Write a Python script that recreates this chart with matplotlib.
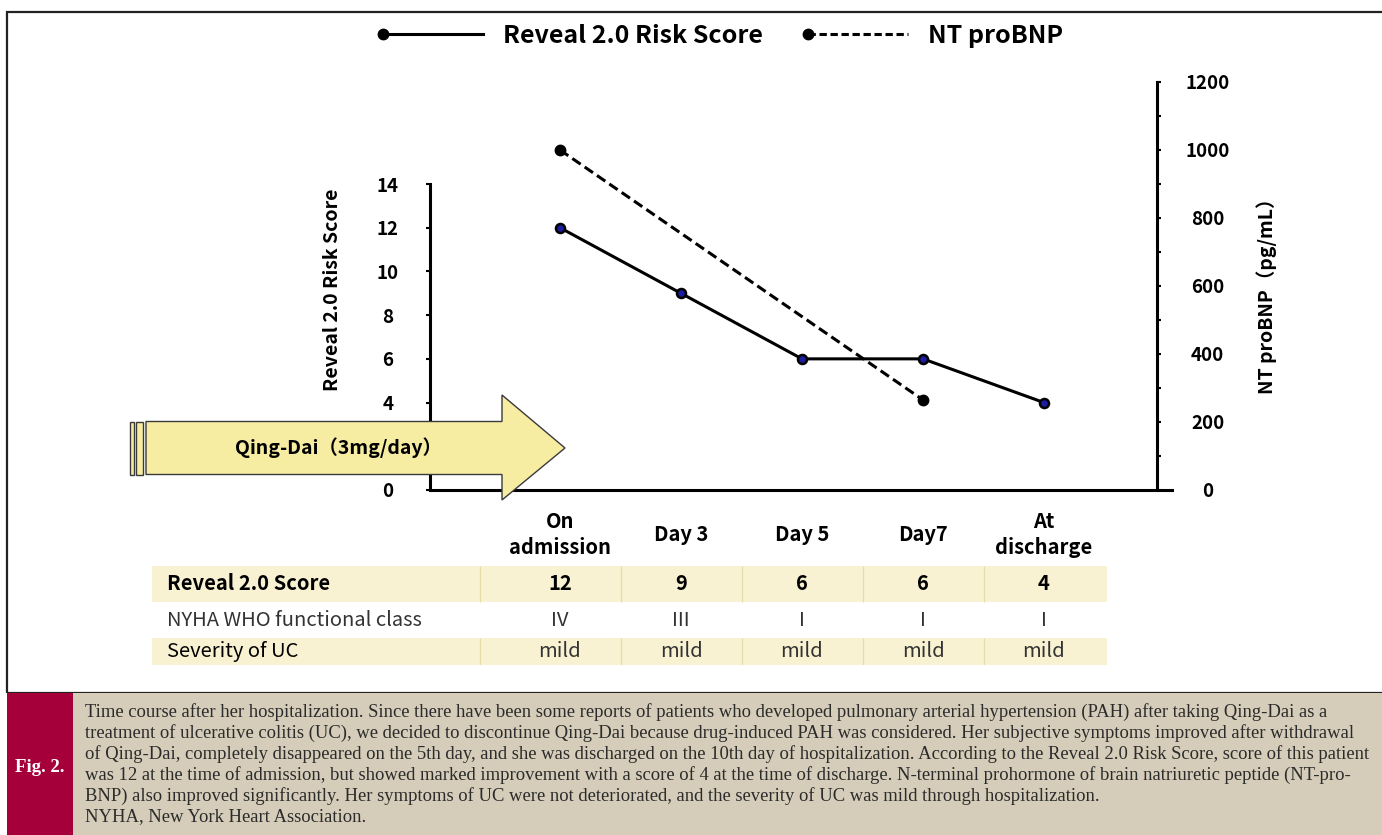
import numpy as np
import matplotlib
matplotlib.use("Agg")
import matplotlib.pyplot as plt
from matplotlib.lines import Line2D
from matplotlib.legend_handler import HandlerLine2D
from matplotlib.patches import Polygon, Rectangle


# ---- data ----
days = ["On\nadmission", "Day 3", "Day 5", "Day7", "At\ndischarge"]
reveal_score = [12, 9, 6, 6, 4]
bnp_idx = [0, 3]              # NT proBNP measured on admission and day 7
bnp_values = [1000, 265]
nyha_class = ["IV", "III", "I", "I", "I"]
uc_severity = ["mild", "mild", "mild", "mild", "mild"]
row_labels = ["Reveal 2.0 Score", "NYHA WHO functional class", "Severity of UC"]
# the "2" label sits under the Qing-Dai arrow, so it is not shown
left_ticks = [0, 2, 4, 6, 8, 10, 12, 14]
left_ticklabels = ["0", "", "4", "6", "8", "10", "12", "14"]

caption_lines = [
    "Time course after her hospitalization. Since there have been some reports of patients who developed pulmonary arterial hypertension (PAH) after taking Qing-Dai as a",
    "treatment of ulcerative colitis (UC), we decided to discontinue Qing-Dai because drug-induced PAH was considered. Her subjective symptoms improved after withdrawal",
    "of Qing-Dai, completely disappeared on the 5th day, and she was discharged on the 10th day of hospitalization. According to the Reveal 2.0 Risk Score, score of this patient",
    "was 12 at the time of admission, but showed marked improvement with a score of 4 at the time of discharge. N-terminal prohormone of brain natriuretic peptide (NT-pro-",
    "BNP) also improved significantly. Her symptoms of UC were not deteriorated, and the severity of UC was mild through hospitalization.",
    "NYHA, New York Heart Association.",
]

SANS = ["Noto Sans CJK JP", "DejaVu Sans"]
SERIF = ["Liberation Serif", "DejaVu Serif"]
plt.rcParams["font.family"] = SANS

W, H = 1382, 835
CREAM = "#f8f2d2"
ARROW_FILL = "#f6eca2"


def fx(px):
    return px / W


def fy(py):
    return 1 - py / H


# category i sits at pixel X0 + DX * i
X0, DX = 560, 121


def xi(px):
    return (px - X0) / DX


class DotAtStart(HandlerLine2D):
    # legend line with the marker only at its left end
    def create_artists(self, legend, orig_handle, xdescent, ydescent,
                       width, height, fontsize, trans):
        y = (height - ydescent) / 2
        line = Line2D([-xdescent, width - xdescent], [y, y])
        self.update_prop(line, orig_handle, legend)
        line.set_markevery([0])
        line.set_transform(trans)
        return [line]


fig = plt.figure(figsize=(W / 100, H / 100), dpi=100)

# ---- axes ----
ax_l = fig.add_axes([fx(430), fy(490), fx(1172) - fx(430), (490 - 184) / H])
ax_r = fig.add_axes([fx(430), fy(490), fx(1157) - fx(430), (490 - 82) / H])
for a in (ax_l, ax_r):
    a.set_facecolor("none")

x = np.arange(len(days))

ax_l.plot(x, reveal_score, color="black", lw=2.2, marker="o", ms=6.5,
          mfc="#1c1ca0", mec="black", mew=1.8, clip_on=False, zorder=3)
ax_l.set_xlim(xi(430), xi(1172))
ax_l.set_ylim(0, 14)
ax_l.set_yticks(left_ticks)
ax_l.set_yticklabels(left_ticklabels)
ax_l.set_xticks(x)
ax_l.set_xticklabels(days, fontsize=14.5, fontweight="bold", linespacing=1.25)
for s in ("top", "right"):
    ax_l.spines[s].set_visible(False)
for s in ("left", "bottom"):
    ax_l.spines[s].set_linewidth(2.2)
ax_l.tick_params(axis="y", direction="out", length=3, width=1.5, pad=27.5,
                 labelsize=13.5)
ax_l.tick_params(axis="x", length=0, pad=32)
for lab in ax_l.get_yticklabels():
    lab.set_ha("center")
    lab.set_fontweight("bold")
for lab in ax_l.get_xticklabels():
    lab.set_va("center")
ax_l.set_ylabel("Reveal 2.0 Risk Score", fontsize=14, fontweight="bold")
ax_l.yaxis.set_label_coords((333 - 430) / (1172 - 430), (490 - 290) / 306)
ax_l.yaxis.label.set_va("center")

ax_r.plot(bnp_idx, bnp_values, color="black", lw=2.2, dashes=(3.3, 1.6),
          marker="o", ms=7.5, mfc="black", mec="black", clip_on=False, zorder=3)
ax_r.set_xlim(xi(430), xi(1157))
ax_r.set_ylim(0, 1200)
ax_r.set_yticks(range(0, 1201, 200))
ax_r.set_yticks(range(100, 1200, 200), minor=True)
ax_r.set_xticks([])
ax_r.yaxis.tick_right()
for s in ("top", "left", "bottom"):
    ax_r.spines[s].set_visible(False)
ax_r.spines["right"].set_linewidth(2.2)
ax_r.tick_params(axis="y", which="both", direction="out", length=3, width=1.5,
                 pad=33.5, labelsize=13.5)
for lab in ax_r.get_yticklabels():
    lab.set_ha("center")
    lab.set_fontweight("bold")
ax_r.yaxis.set_label_position("right")
ax_r.set_ylabel("NT proBNP（pg/mL）", fontsize=14, fontweight="bold",
                rotation=90)
ax_r.yaxis.set_label_coords((1267 - 430) / (1157 - 430), (489 - 291) / 407)
ax_r.yaxis.label.set_va("center")

# ---- legend ----
h1 = Line2D([], [], color="black", lw=2.2, marker="o", ms=7.5, mfc="black")
h2 = Line2D([], [], color="black", lw=2.2, dashes=(2.4, 1.2), marker="o",
            ms=7.5, mfc="black")
fig.legend([h1, h2], ["Reveal 2.0 Risk Score", "NT proBNP"],
           loc="center left", bbox_to_anchor=(fx(383), fy(36)), ncol=2,
           frameon=False, borderpad=0, borderaxespad=0, handlelength=4.0,
           handletextpad=0.8, columnspacing=1.8,
           prop=dict(family=SANS, weight="bold", size=18),
           handler_map={Line2D: DotAtStart()})

# ---- Qing-Dai arrow ----
arrow_pts = [(146, 421.5), (502, 421.5), (502, 395), (565, 448),
             (502, 500), (502, 474.5), (146, 474.5)]
fig.add_artist(Polygon([(fx(a), fy(b)) for a, b in arrow_pts], closed=True,
                       transform=fig.transFigure, facecolor=ARROW_FILL,
                       edgecolor="#3a3a3a", lw=1.0, zorder=5))
for left, w in ((130, 4), (136, 7)):
    fig.add_artist(Rectangle((fx(left), fy(474.5)), w / W, 53 / H,
                             transform=fig.transFigure, facecolor=ARROW_FILL,
                             edgecolor="#3a3a3a", lw=1.0, zorder=5))
fig.text(fx(338), fy(448), "Qing-Dai（3mg/day）", ha="center", va="center",
         fontsize=14, fontweight="bold", zorder=6)

# ---- table under the chart ----
ax_t = fig.add_axes([fx(152), fy(665), fx(1107) - fx(152), (665 - 566) / H])
ax_t.set_xlim(xi(152), xi(1107))
ax_t.set_ylim(99, 0)
ax_t.axis("off")
row_edges = [0, 36, 72, 99]
col_edges = [xi(480)] + [i + 0.5 for i in range(len(days) - 1)]
for r in (0, 2):
    ax_t.axhspan(row_edges[r], row_edges[r + 1], color=CREAM, lw=0)
    ax_t.vlines(col_edges, row_edges[r], row_edges[r + 1], color="#e6dcaa",
                lw=0.9)

table_rows = [[str(v) for v in reveal_score], nyha_class, uc_severity]
row_style = [dict(fontweight="bold", color="black"),
             dict(fontweight="normal", color="#333333"),
             dict(fontweight="normal", color="#333333")]
label_color = ["black", "#333333", "black"]
for r, (lab, vals) in enumerate(zip(row_labels, table_rows)):
    yc = (row_edges[r] + row_edges[r + 1]) / 2
    ax_t.text(xi(167), yc, lab, ha="left", va="center", fontsize=14.5,
              fontweight=row_style[r]["fontweight"], color=label_color[r])
    for i, v in enumerate(vals):
        ax_t.text(i, yc, v, ha="center", va="center", fontsize=14.5, **row_style[r])

# ---- frame and caption ----
fig.add_artist(Rectangle((fx(7), fy(693)), fx(1420) - fx(7), (693 - 12) / H,
                         transform=fig.transFigure, fill=False,
                         edgecolor="#222222", lw=1.6, zorder=0))
fig.add_artist(Rectangle((fx(7), 0), fx(73) - fx(7), fy(693),
                         transform=fig.transFigure, facecolor="#a5003a",
                         lw=0, zorder=1))
fig.add_artist(Rectangle((fx(73), 0), 1 - fx(73), fy(693),
                         transform=fig.transFigure, facecolor="#d5cdb9",
                         lw=0, zorder=1))
fig.text(fx(40), fy(768), "Fig. 2.", ha="center", va="center", color="white",
         fontsize=13.5, fontweight="bold", family=SERIF, zorder=2)
for k, line in enumerate(caption_lines):
    fig.text(fx(85), fy(712 + 21 * k), line, ha="left", va="center",
             fontsize=13.4, color="#2b2b2b", family=SERIF, zorder=2)

fig.savefig("out.png", dpi=100)
